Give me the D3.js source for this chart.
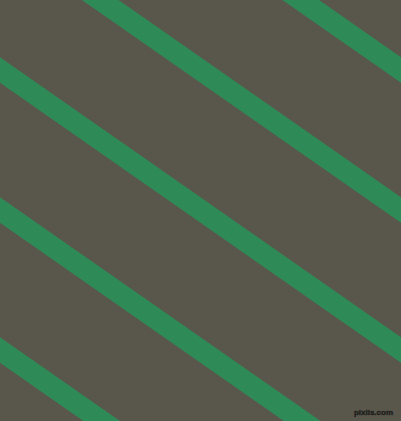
<!DOCTYPE html>
<html>
<head>
<meta charset="utf-8">
<script src="https://cdn.jsdelivr.net/npm/d3@7"></script>
<style>
  html, body { margin: 0; padding: 0; overflow: hidden; }
</style>
</head>
<body>
<div id="pattern"></div>
<script>
// stripe centre lines: y where each stripe meets the left edge (x = 0)
const stripeStarts = [-210, -70, 70, 210, 350];
// y drop of each stripe over the full width
const stripeDrop = 280;
const backgroundColor = "#59574b";
const stripeColor = "#2e8b57";
const watermark = "pixlis.com";

const width = 401, height = 421;

const svg = d3.select("#pattern")
  .append("svg")
  .attr("width", width)
  .attr("height", height);

var x = d3.scaleLinear().domain([0, 1]).range([0, width]);
var y = d3.scaleLinear().domain([0, height]).range([0, height]);

svg.append("rect")
  .attr("width", width)
  .attr("height", height)
  .attr("fill", backgroundColor);

// draw each stripe as a thick line across the picture
const line = d3.line()
  .x(d => x(d[0]))
  .y(d => y(d[1]));

svg.selectAll(".stripe")
  .data(stripeStarts)
  .enter()
  .append("path")
  .attr("class", "stripe")
  .attr("d", d => line([[-0.1, d - stripeDrop * 0.1], [1.1, d + stripeDrop * 1.1]]))
  .attr("stroke", stripeColor)
  .attr("stroke-width", 21)
  .attr("fill", "none");

// small watermark, bottom right
svg.append("text")
  .attr("x", 393)
  .attr("y", 415)
  .attr("text-anchor", "end")
  .attr("font-family", "Liberation Sans, Arial, sans-serif")
  .attr("font-weight", "bold")
  .attr("font-size", 8)
  .attr("fill", "#1c1c19")
  .attr("stroke", "#3a3933")
  .attr("stroke-width", 0.6)
  .attr("paint-order", "stroke")
  .text(watermark);
</script>
</body>
</html>
